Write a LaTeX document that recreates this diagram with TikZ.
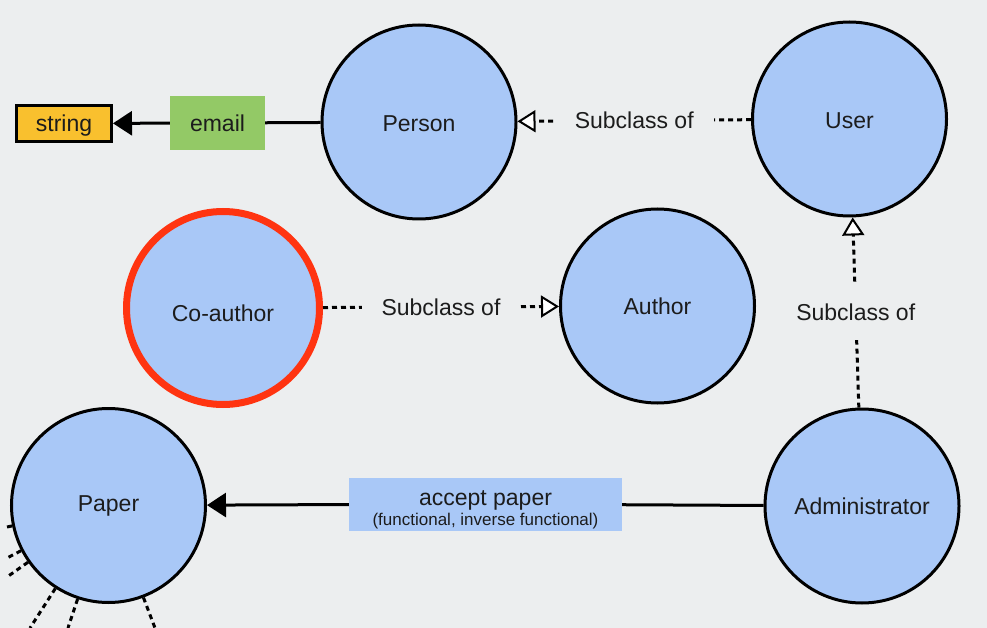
\documentclass[tikz,border=0pt]{standalone}
\usepackage{fontspec}
\setmainfont{Liberation Sans}
\usetikzlibrary{arrows.meta}
\definecolor{bg}{HTML}{ECEEEF}
\definecolor{classfill}{HTML}{A9C8F7}
\definecolor{propfill}{HTML}{93C966}
\definecolor{typefill}{HTML}{F9C02E}
\definecolor{hilite}{HTML}{FF3411}
\definecolor{ink}{HTML}{1C1C1C}
\begin{document}
\begin{tikzpicture}[x=1pt,y=-1pt,
  labelfont/.style={font=\fontsize{23}{26}\selectfont,text=ink},
  class/.style={circle,draw=black,line width=3pt,fill=classfill,
    minimum size=194pt,inner sep=0pt,labelfont},
  focusclass/.style={class,draw=hilite,line width=7pt,minimum size=193pt},
  prop/.style={rectangle,fill=propfill,minimum width=95pt,minimum height=54pt,
    inner sep=0pt,labelfont},
  datatype/.style={rectangle,draw=black,line width=3pt,fill=typefill,
    minimum width=95pt,minimum height=36pt,inner sep=0pt,labelfont,text depth=0pt},
  relbox/.style={rectangle,fill=classfill,minimum width=273pt,minimum height=53pt,
    inner sep=0pt,align=center,labelfont},
  solidedge/.style={draw=black,line width=3pt},
  dashedge/.style={draw=black,line width=3pt,dash pattern=on 5pt off 4pt},
  filledtip/.style={-{Triangle[length=19pt,width=24pt]}},
  opentip/.style={-{Triangle[length=18pt,width=22pt,fill=white,line width=2pt]}},
  sublabel/.style={fill=bg,inner xsep=20pt,inner ysep=4pt,labelfont},
]
% canvas
\fill[bg] (0,0) rectangle (987,628);
\clip (0,0) rectangle (987,628);

% classes
\node[class,text height=20pt] (person) at (419,122) {Person};
\node[class,text height=20pt] (user) at (849.5,119) {User};
\node[focusclass,text height=27pt] (coauthor) at (223,308) {Co-author};
\node[class] (author) at (657.5,306) {Author};
\node[class] (paper) at (108.5,505.5) {Paper};
\node[class] (admin) at (862,506) {Administrator};

% property and datatype
\node[prop] (email) at (217.5,123) {email};
\node[datatype] (string) at (64,123.5) {string};
\node[relbox] (accept) at (485.5,504) {\rule{0pt}{26pt}accept paper\\[-6pt]{\fontsize{17}{19}\selectfont(functional, inverse functional)}};

% property connectors
\draw[solidedge] (person) -- (email);
\draw[solidedge,filledtip] (email) -- (string);
\draw[solidedge] (admin) -- (accept);
\draw[solidedge,filledtip] (accept) -- (paper);

% subclass connectors
\draw[dashedge,opentip] (user) -- node[sublabel] {Subclass of} (person);
\draw[dashedge,opentip] (coauthor) -- node[sublabel] {Subclass of} (author);
\draw[dashedge,opentip] (admin) -- node[sublabel,inner xsep=2pt,minimum height=55pt] {Subclass of} (user);

% further links leaving the paper class
\coordinate (p0) at (7,527);
\coordinate (p1) at (7,558);
\coordinate (p2) at (7,577);
\coordinate (p3) at (30,628);
\coordinate (p4) at (68,628);
\coordinate (p5) at (155,628);
\draw[solidedge] (paper) -- (p0);
\draw[dashedge] (paper) -- (p1);
\draw[dashedge] (paper) -- (p2);
\draw[dashedge] (paper) -- (p3);
\draw[dashedge] (paper) -- (p4);
\draw[dashedge] (paper) -- (p5);
\end{tikzpicture}
\end{document}
